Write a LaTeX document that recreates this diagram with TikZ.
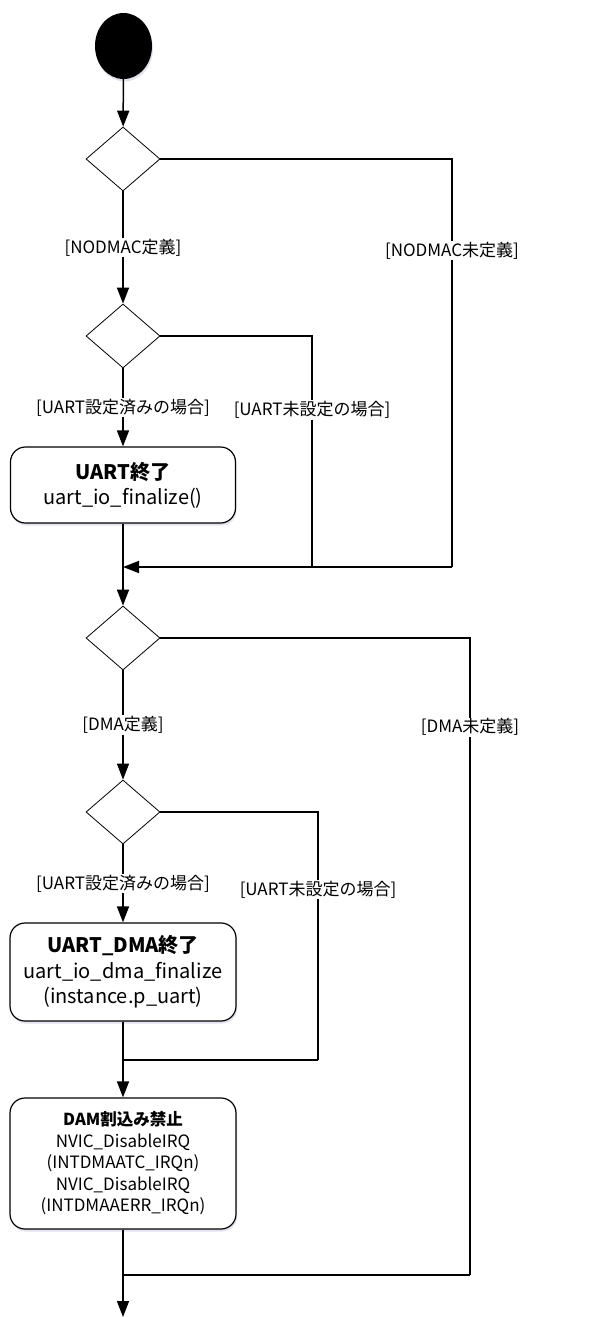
\documentclass[tikz,border=0pt]{standalone}
\usepackage{fontspec}
\setmainfont{Noto Sans CJK JP}
\usetikzlibrary{shapes.geometric,arrows.meta,shadows}
\tikzset{
  ln/.style={line width=1.5pt},
  arr/.style={line width=1.5pt,-{Triangle[length=16pt,width=12pt]}},
  lbl/.style={fill=white,inner sep=1pt,font=\fontsize{17}{20}\selectfont},
  dec/.style={diamond,draw,line width=0.8pt,inner sep=0pt,minimum width=74pt,minimum height=64pt,fill=white},
  shd/.style={drop shadow={shadow xshift=1pt,shadow yshift=-2.5pt,fill=blue!25!gray!40,opacity=0.45}},
  act/.style={rectangle,rounded corners=15pt,draw,line width=1.2pt,fill=white,align=center,shd,inner sep=2pt},
  startc/.style={ellipse,fill=black,minimum width=57pt,minimum height=66pt,inner sep=0pt,shd}
}
\begin{document}
\begin{tikzpicture}[x=1pt,y=-1pt]
\useasboundingbox (0,0) rectangle (603,1317);
\node[startc] (start) at (123.5,46) {};
\node[dec] (d1) at (123,159) {};
\node[dec] (d2) at (123,336) {};
\node[act,minimum width=225pt,minimum height=76pt,font=\fontsize{20}{25}\selectfont] (b1) at (123,485) {\textbf{UART終了}\\uart\_io\_finalize()};
\node[dec] (d3) at (123,638) {};
\node[dec] (d4) at (123,812) {};
\node[act,minimum width=226pt,minimum height=98pt,font=\fontsize{20}{25.5}\selectfont] (b2) at (123,972) {\textbf{UART\_DMA終了}\\uart\_io\_dma\_finalize\\(instance.p\_uart)};
\node[act,minimum width=226pt,minimum height=131pt,font=\fontsize{17}{21.5}\selectfont] (b3) at (123,1163.5) {{\fontsize{16.5}{21.5}\selectfont\textbf{DAM割込み禁止}}\\NVIC\_DisableIRQ\\(INTDMAATC\_IRQn)\\NVIC\_DisableIRQ\\(INTDMAAERR\_IRQn)};
\coordinate (m1) at (123,567);
\coordinate (m2) at (123,1060);
\coordinate (m3) at (123,1275);
\coordinate (r1) at (452,567);
\coordinate (r2) at (312,567);
\coordinate (r3) at (470,1275);
\coordinate (r4) at (318,1060);
\coordinate (end) at (123,1317);
\draw[arr] (start) -- (d1);
\draw[arr] (d1) -- node[lbl]{[NODMAC定義]} (d2);
\draw[ln] (d1.east) -| node[lbl,pos=0.6125]{[NODMAC未定義]} (r1);
\draw[arr] (r1) -- (m1);
\draw[ln] (d2.east) -| node[lbl,pos=0.66]{[UART未設定の場合]} (r2);
\draw[arr] (d2) -- node[lbl]{[UART設定済みの場合]} (b1);
\draw[ln] (b1) -- (m1);
\draw[arr] (m1) -- (d3);
\draw[arr] (d3) -- node[lbl]{[DMA定義]} (d4);
\draw[ln] (d3.east) -| node[lbl,pos=0.57]{[DMA未定義]} (r3);
\draw[ln] (r3) -- (m3);
\draw[ln] (d4.east) -| node[lbl,pos=0.657]{[UART未設定の場合]} (r4);
\draw[ln] (r4) -- (m2);
\draw[arr] (d4) -- node[lbl]{[UART設定済みの場合]} (b2);
\draw[ln] (b2) -- (m2);
\draw[arr] (m2) -- (b3);
\draw[ln] (b3) -- (m3);
\draw[arr] (m3) -- (end);
\end{tikzpicture}
\end{document}
